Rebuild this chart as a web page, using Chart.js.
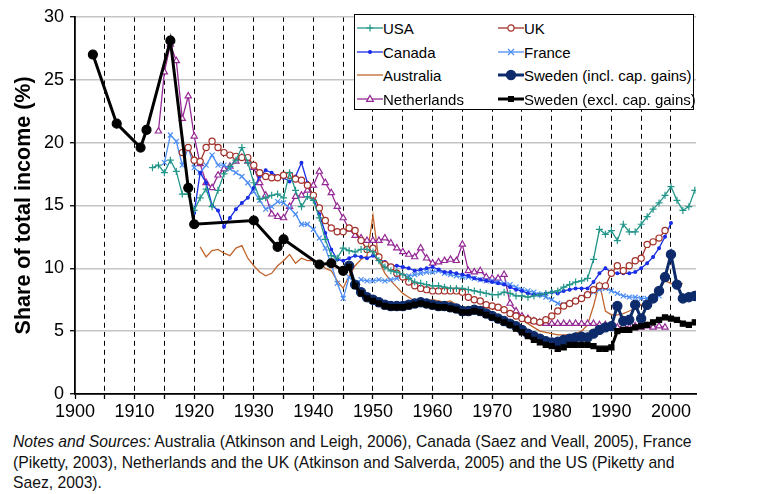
<!DOCTYPE html>
<html>
<head>
<meta charset="utf-8">
<script src="https://cdn.jsdelivr.net/npm/chart.js@4.4.1/dist/chart.umd.min.js"></script>
<style>
  body { margin: 0; background: #fff; font-family: "Liberation Sans", Arial, sans-serif; }
  #wrap { position: relative; width: 767px; height: 494px; }
  #legend {
    position: absolute; left: 354px; top: 14px; width: 338px; height: 94px;
    border: 1.5px solid #000; background: #fff; font-size: 15px; color: #000;
  }
  .item { position: absolute; height: 23px; line-height: 23px; white-space: nowrap; }
  .item svg { position: absolute; left: 0; top: 5px; }
  .item span { position: absolute; left: 26px; top: 0; }
  #notes {
    position: absolute; left: 13px; top: 432px; font-size: 15.7px; line-height: 20.5px;
    color: #111; white-space: nowrap;
  }
</style>
</head>
<body>
<div id="wrap">
  <canvas id="chart" width="767" height="430"></canvas>
  <div id="legend"></div>
  <div id="notes"><i>Notes and Sources:</i> Australia (Atkinson and Leigh, 2006), Canada (Saez and Veall, 2005), France<br>(Piketty, 2003), Netherlands and the UK (Atkinson and Salverda, 2005) and the US (Piketty and<br>Saez, 2003).</div>
</div>
<script>
// ============================
// DATA (top 1% income shares, %)
// ============================
const xTicks = [1900, 1905, 1910, 1915, 1920, 1925, 1930, 1935, 1940, 1945, 1950,
  1955, 1960, 1965, 1970, 1975, 1980, 1985, 1990, 1995, 2000];

const usaStart = 1913;
const usa = [18.0, 18.2, 17.6, 18.6, 17.7, 15.9, 15.9, 14.6, 15.6, 16.3, 14.9, 16.2, 17.5, 18.1, 18.6, 19.6, 18.4,
  16.8, 15.5, 15.6, 15.8, 15.9, 15.6, 17.6, 16.2, 14.9, 15.7, 15.4, 14.0, 12.3, 11.0, 10.8, 11.6, 11.4, 11.3,
  11.5, 11.5, 11.3, 10.6, 10.1, 9.8, 9.7, 9.5, 9.2, 8.9, 8.8, 8.7, 8.6, 8.6, 8.5, 8.4, 8.4, 8.4, 8.3, 8.2, 8.1,
  8.0, 7.9, 7.9, 8.1, 8.0, 7.8, 7.8, 7.7, 7.8, 7.9, 8.0, 8.1, 8.2, 8.5, 8.7, 8.9, 9.0, 9.2, 10.7, 13.1, 12.7,
  13.0, 12.2, 13.5, 12.9, 12.9, 13.5, 14.1, 14.7, 15.2, 15.8, 16.5, 15.4, 14.6, 14.9, 16.2];

const ukStart = 1918;
const uk = [19.2, 19.6, 18.6, 18.5, 19.6, 20.1, 19.6, 19.2, 19.0, 18.9, 18.8, 18.8, 18.2, 17.6, 17.3, 17.2, 17.2,
  17.4, 17.4, 17.1, 17.0, 16.6, 15.8, 14.8, 13.8, 13.2, 12.9, 12.9, 13.2, 13.0, 12.2, 11.5, 11.6, 10.9, 10.3,
  10.1, 9.6, 9.3, 8.9, 8.6, 8.4, 8.3, 8.2, 8.2, 8.2, 8.2, 8.2, 8.1, 7.7, 7.5, 7.4, 7.1, 7.0, 6.9, 6.7, 6.4, 6.2,
  6.0, 5.9, 5.8, 5.7, 5.9, 6.2, 6.6, 7.0, 7.2, 7.4, 7.6, 7.9, 8.3, 8.6, 8.6, 9.6, 10.2, 9.8, 10.2, 10.6, 10.8,
  11.9, 12.1, 12.4, 13.0];

const canadaStart = 1920;
const canada = [14.4, 17.6, 16.8, 15.0, 14.6, 13.3, 14.0, 14.7, 15.2, 15.6, 16.4, 17.3, 17.8, 17.6, 17.3, 17.2,
  16.9, 17.3, 18.4, 16.8, 15.6, 14.3, 12.8, 11.5, 10.7, 10.6, 10.8, 11.0, 10.9, 10.8, 11.0, 10.7, 10.5, 10.2,
  10.2, 10.1, 10.0, 9.8, 9.9, 10.0, 10.1, 9.9, 9.7, 9.7, 9.6, 9.5, 9.4, 9.2, 9.1, 9.0, 8.9, 8.8, 8.7, 8.5, 8.3,
  8.2, 8.0, 7.9, 7.9, 8.0, 8.1, 8.0, 8.2, 8.3, 8.4, 8.4, 8.4, 8.9, 9.6, 10.0, 9.7, 9.6, 9.6, 9.6, 9.7, 10.0,
  10.4, 10.9, 11.6, 12.5, 13.6];

const franceStart = 1915;
const france = [18.4, 20.6, 20.1, 18.2, 19.6, 18.0, 17.6, 18.2, 19.0, 18.2, 18.2, 17.9, 17.6, 17.3, 16.8, 16.1,
  15.4, 14.7, 14.9, 15.3, 15.2, 14.8, 14.3, 13.5, 13.5, 13.1, 12.4, 11.6, 10.3, 8.8, 7.6, 9.3, 8.8, 9.1, 9.0,
  9.0, 9.1, 9.0, 9.1, 9.2, 9.3, 9.4, 9.5, 9.6, 9.7, 9.7, 9.8, 9.6, 9.5, 9.4, 9.3, 9.3, 9.2, 9.1, 9.0, 9.0, 8.9,
  8.8, 8.7, 8.5, 8.3, 8.2, 8.1, 7.9, 7.7, 7.5, 7.2, 7.1, 7.2, 7.4, 7.7, 7.9, 8.1, 8.3, 8.4, 8.2, 8.0, 7.8, 7.7,
  7.7, 7.6, 7.6, 7.7, 7.8];

const australiaStart = 1921;
const australia = [11.7, 10.9, 11.4, 11.5, 11.2, 11.0, 11.6, 11.8, 10.8, 10.2, 9.7, 9.4, 9.6, 10.2, 10.6, 11.1,
  10.4, 10.8, 10.6, 10.6, 10.5, 10.0, 9.8, 9.0, 8.4, 9.4, 10.2, 10.7, 11.0, 14.2, 10.6, 9.6, 9.0, 8.5, 8.0, 7.7,
  7.4, 7.3, 7.4, 7.5, 7.4, 7.3, 7.4, 7.1, 6.9, 6.9, 6.9, 6.9, 6.9, 6.8, 6.7, 6.6, 6.4, 6.1, 5.9, 5.6, 5.3, 5.0,
  4.9, 4.8, 4.7, 4.7, 4.7, 4.8, 5.0, 5.5, 7.0, 8.8, 6.6, 6.3, 6.3, 6.4, 6.6, 6.8, 7.1, 7.4, 7.8, 8.3, 9.0, 8.8,
  8.7, 8.8];

const netherlandsStart = 1914;
const netherlands = [20.9, 25.6, 27.8, 26.5, 21.9, 23.7, 20.5, 18.3, 16.8, 16.4, 17.4, 17.9, 18.1, 18.5, 18.8,
  18.5, 18.0, 16.8, 15.8, 14.3, 14.1, 14.0, 14.9, 15.7, 15.8, 16.2, 16.6, 17.7, 16.8, 16.0, 14.9, 14.0, 13.1,
  12.6, 12.4, 12.2, 12.2, 12.2, 12.4, 12.0, 11.6, 11.3, 11.1, 10.9, 11.6, 10.8, 10.4, 10.5, 10.6, 10.7, 10.6,
  11.9, 9.8, 9.7, 9.8, 9.3, 9.2, 9.2, 9.5, 7.2, 6.6, 6.2, 6.0, 5.8, 5.7, 5.6, 5.6, 5.6, 5.6, 5.6, 5.6, 5.6, 5.6,
  5.6, 5.5, 5.5, 5.4, 5.3, 5.4, 5.3, 5.4, 5.3, 5.4, 5.3, 5.4, 5.3];

const swedenYears = [1903, 1907, 1911, 1912, 1916, 1919, 1920, 1930, 1934, 1935, 1941, 1943, 1945, 1946, 1947,
  1948, 1949, 1950, 1951, 1952, 1953, 1954, 1955, 1956, 1957, 1958, 1959, 1960, 1961, 1962, 1963, 1964, 1965,
  1966, 1967, 1968, 1969, 1970, 1971, 1972, 1973, 1974, 1975, 1976, 1977, 1978, 1979, 1980, 1981, 1982, 1983,
  1984, 1985, 1986, 1987, 1988, 1989, 1990, 1991, 1992, 1993, 1994, 1995, 1996, 1997, 1998, 1999, 2000, 2001,
  2002, 2003, 2004];
const swedenExcl = [27.0, 21.5, 19.6, 21.0, 28.1, 16.4, 13.5, 13.8, 11.7, 12.3, 10.3, 10.4, 9.8, 10.1, 8.6, 8.0,
  7.6, 7.4, 7.2, 7.0, 6.9, 6.9, 6.9, 7.0, 7.1, 7.2, 7.1, 7.0, 6.9, 6.9, 6.8, 6.7, 6.5, 6.5, 6.6, 6.5, 6.3, 6.1,
  5.9, 5.7, 5.5, 5.2, 4.9, 4.6, 4.3, 4.1, 3.9, 3.8, 3.6, 3.7, 3.9, 3.9, 3.9, 3.9, 3.8, 3.6, 3.6, 3.7, 5.0, 5.1,
  5.1, 5.3, 5.4, 5.5, 5.7, 5.9, 6.1, 6.0, 5.9, 5.6, 5.5, 5.7];

const swedenInclStart = 1946;
const swedenIncl = [10.2, 8.7, 8.1, 7.7, 7.5, 7.3, 7.1, 7.0, 7.0, 7.0, 7.1, 7.2, 7.3, 7.2, 7.1, 7.0, 7.0, 6.9,
  6.8, 6.6, 6.6, 6.7, 6.6, 6.4, 6.2, 6.0, 5.8, 5.6, 5.4, 5.1, 4.8, 4.6, 4.4, 4.2, 4.1, 4.15, 4.3, 4.4, 4.5,
  4.55, 4.5, 4.8, 5.1, 5.3, 5.4, 7.0, 5.8, 5.9, 7.1, 6.0, 7.1, 7.6, 8.2, 9.3, 11.1, 8.7, 7.6, 7.7, 7.8];

// ============================
// HELPERS
// ============================
function fromStart(start, values) {
  return values.map((v, i) => ({ x: start + i, y: v }));
}

function fromYears(years, values) {
  return values.map((v, i) => ({ x: years[i], y: v }));
}

// ============================
// SERIES
// ============================
const series = [
  { label: "USA", data: fromStart(usaStart, usa), color: "#23968a", style: "cross", r: 3.5, fill: "#23968a", w: 1.3, order: 2 },
  { label: "UK", data: fromStart(ukStart, uk), color: "#a3322b", style: "circle", r: 3.1, fill: "#fff", w: 1.3, order: 3 },
  { label: "Canada", data: fromStart(canadaStart, canada), color: "#1a2de6", style: "circle", r: 1.4, fill: "#1a2de6", w: 1.3, order: 4 },
  { label: "France", data: fromStart(franceStart, france), color: "#4d8ef5", style: "crossRot", r: 3.5, fill: "#4d8ef5", w: 1.3, order: 5 },
  { label: "Australia", data: fromStart(australiaStart, australia), color: "#c0652e", style: "circle", r: 0, fill: "#c0652e", w: 1.3, order: 7 },
  { label: "Netherlands", data: fromStart(netherlandsStart, netherlands), color: "#952995", style: "triangle", r: 3.6, fill: "#fff", w: 1.3, order: 6 },
  { label: "Sweden (incl. cap. gains)", data: fromStart(swedenInclStart, swedenIncl), color: "#0d2b6b", style: "circle", r: 4.6, fill: "#0d2b6b", w: 3, order: 1 },
  { label: "Sweden (excl. cap. gains)", data: fromYears(swedenYears, swedenExcl), color: "#000", style: "rect", r: 3.6, fill: "#000", w: 3, order: 0 }
];

const datasets = series.map(s => ({
  label: s.label,
  data: s.data,
  order: s.order,
  borderColor: s.color,
  borderWidth: s.w,
  tension: 0,
  pointStyle: s.order === 0 ? (c => c.raw && c.raw.x < 1946 ? "circle" : "rect") : s.style,
  pointRadius: s.order === 0 ? (c => c.raw && c.raw.x < 1946 ? 4.5 : s.r) : s.r,
  pointBorderColor: s.color,
  pointBackgroundColor: s.fill,
  pointBorderWidth: 1.2,
  pointHoverRadius: 0
}));

// ============================
// CHART
// ============================
new Chart(document.getElementById("chart"), {
  type: "line",
  data: { datasets },
  options: {
    responsive: false,
    animation: false,
    events: [],
    layout: { padding: { top: 14, right: 71, left: 0, bottom: 0 } },
    plugins: { legend: { display: false }, tooltip: { enabled: false } },
    scales: {
      x: {
        type: "linear",
        min: 1900,
        max: 2004.2,
        afterBuildTicks: s => { s.ticks = xTicks.map(v => ({ value: v })); },
        afterFit: s => { s.height = 36; },
        ticks: {
          autoSkip: false, maxRotation: 0, padding: 2, color: "#000",
          font: { size: 18, family: "'Liberation Sans', Arial, sans-serif" },
          callback: v => (v % 10 === 0 ? String(v) : "")
        },
        grid: {
          color: c => (c.tick && c.tick.value === 1900 ? "rgba(0,0,0,0)" : "#000"),
          lineWidth: 1, tickLength: 5, tickColor: "#000", tickWidth: 1.3
        },
        border: { color: "#000", width: 1.8, dash: [5, 4] }
      },
      y: {
        min: 0,
        max: 30,
        afterFit: s => { s.width = 75; },
        ticks: {
          stepSize: 5, padding: 6, color: "#000",
          font: { size: 18, family: "'Liberation Sans', Arial, sans-serif" }
        },
        grid: { color: "#c4c4c4", lineWidth: 1.5, tickLength: 5, tickColor: "#000", tickWidth: 1.3 },
        border: { color: "#000", width: 1.8 },
        title: {
          display: true, text: "Share of total income (%)", color: "#000",
          font: { size: 21.5, weight: "bold", family: "'Liberation Sans', Arial, sans-serif" },
          padding: { top: 11, bottom: 0 }
        }
      }
    }
  }
});

// ============================
// LEGEND (two columns, four rows)
// ============================
function marker(s) {
  const c = s.color, cx = 13, cy = 6;
  if (s.r === 0) return "";
  if (s.style === "cross")
    return `<path d="M${cx - 3.5} ${cy}H${cx + 3.5}M${cx} ${cy - 3.5}V${cy + 3.5}" stroke="${c}" stroke-width="1.2"/>`;
  if (s.style === "crossRot")
    return `<path d="M${cx - 3} ${cy - 3}L${cx + 3} ${cy + 3}M${cx - 3} ${cy + 3}L${cx + 3} ${cy - 3}" stroke="${c}" stroke-width="1.2"/>`;
  if (s.style === "triangle")
    return `<polygon points="${cx},${cy - 3.6} ${cx - 3.4},${cy + 2.4} ${cx + 3.4},${cy + 2.4}" fill="${s.fill}" stroke="${c}" stroke-width="1.2"/>`;
  if (s.style === "rect")
    return `<rect x="${cx - 3}" y="${cy - 3}" width="6" height="6" fill="${c}"/>`;
  return `<circle cx="${cx}" cy="${cy}" r="${s.r}" fill="${s.fill}" stroke="${c}" stroke-width="1.2"/>`;
}

const legendOrder = ["USA", "UK", "Canada", "France", "Australia", "Sweden (incl. cap. gains)", "Netherlands", "Sweden (excl. cap. gains)"];
document.getElementById("legend").innerHTML = legendOrder.map((name, i) => {
  const s = series.find(d => d.label === name);
  const left = i % 2 === 0 ? 2 : 143;
  const top = 2 + Math.floor(i / 2) * 23.5;
  return `<div class="item" style="left:${left}px;top:${top}px">
    <svg width="26" height="12"><line x1="0" y1="6" x2="26" y2="6" stroke="${s.color}" stroke-width="${s.w}"/>${marker(s)}</svg>
    <span>${name}</span></div>`;
}).join("");
</script>
</body>
</html>
